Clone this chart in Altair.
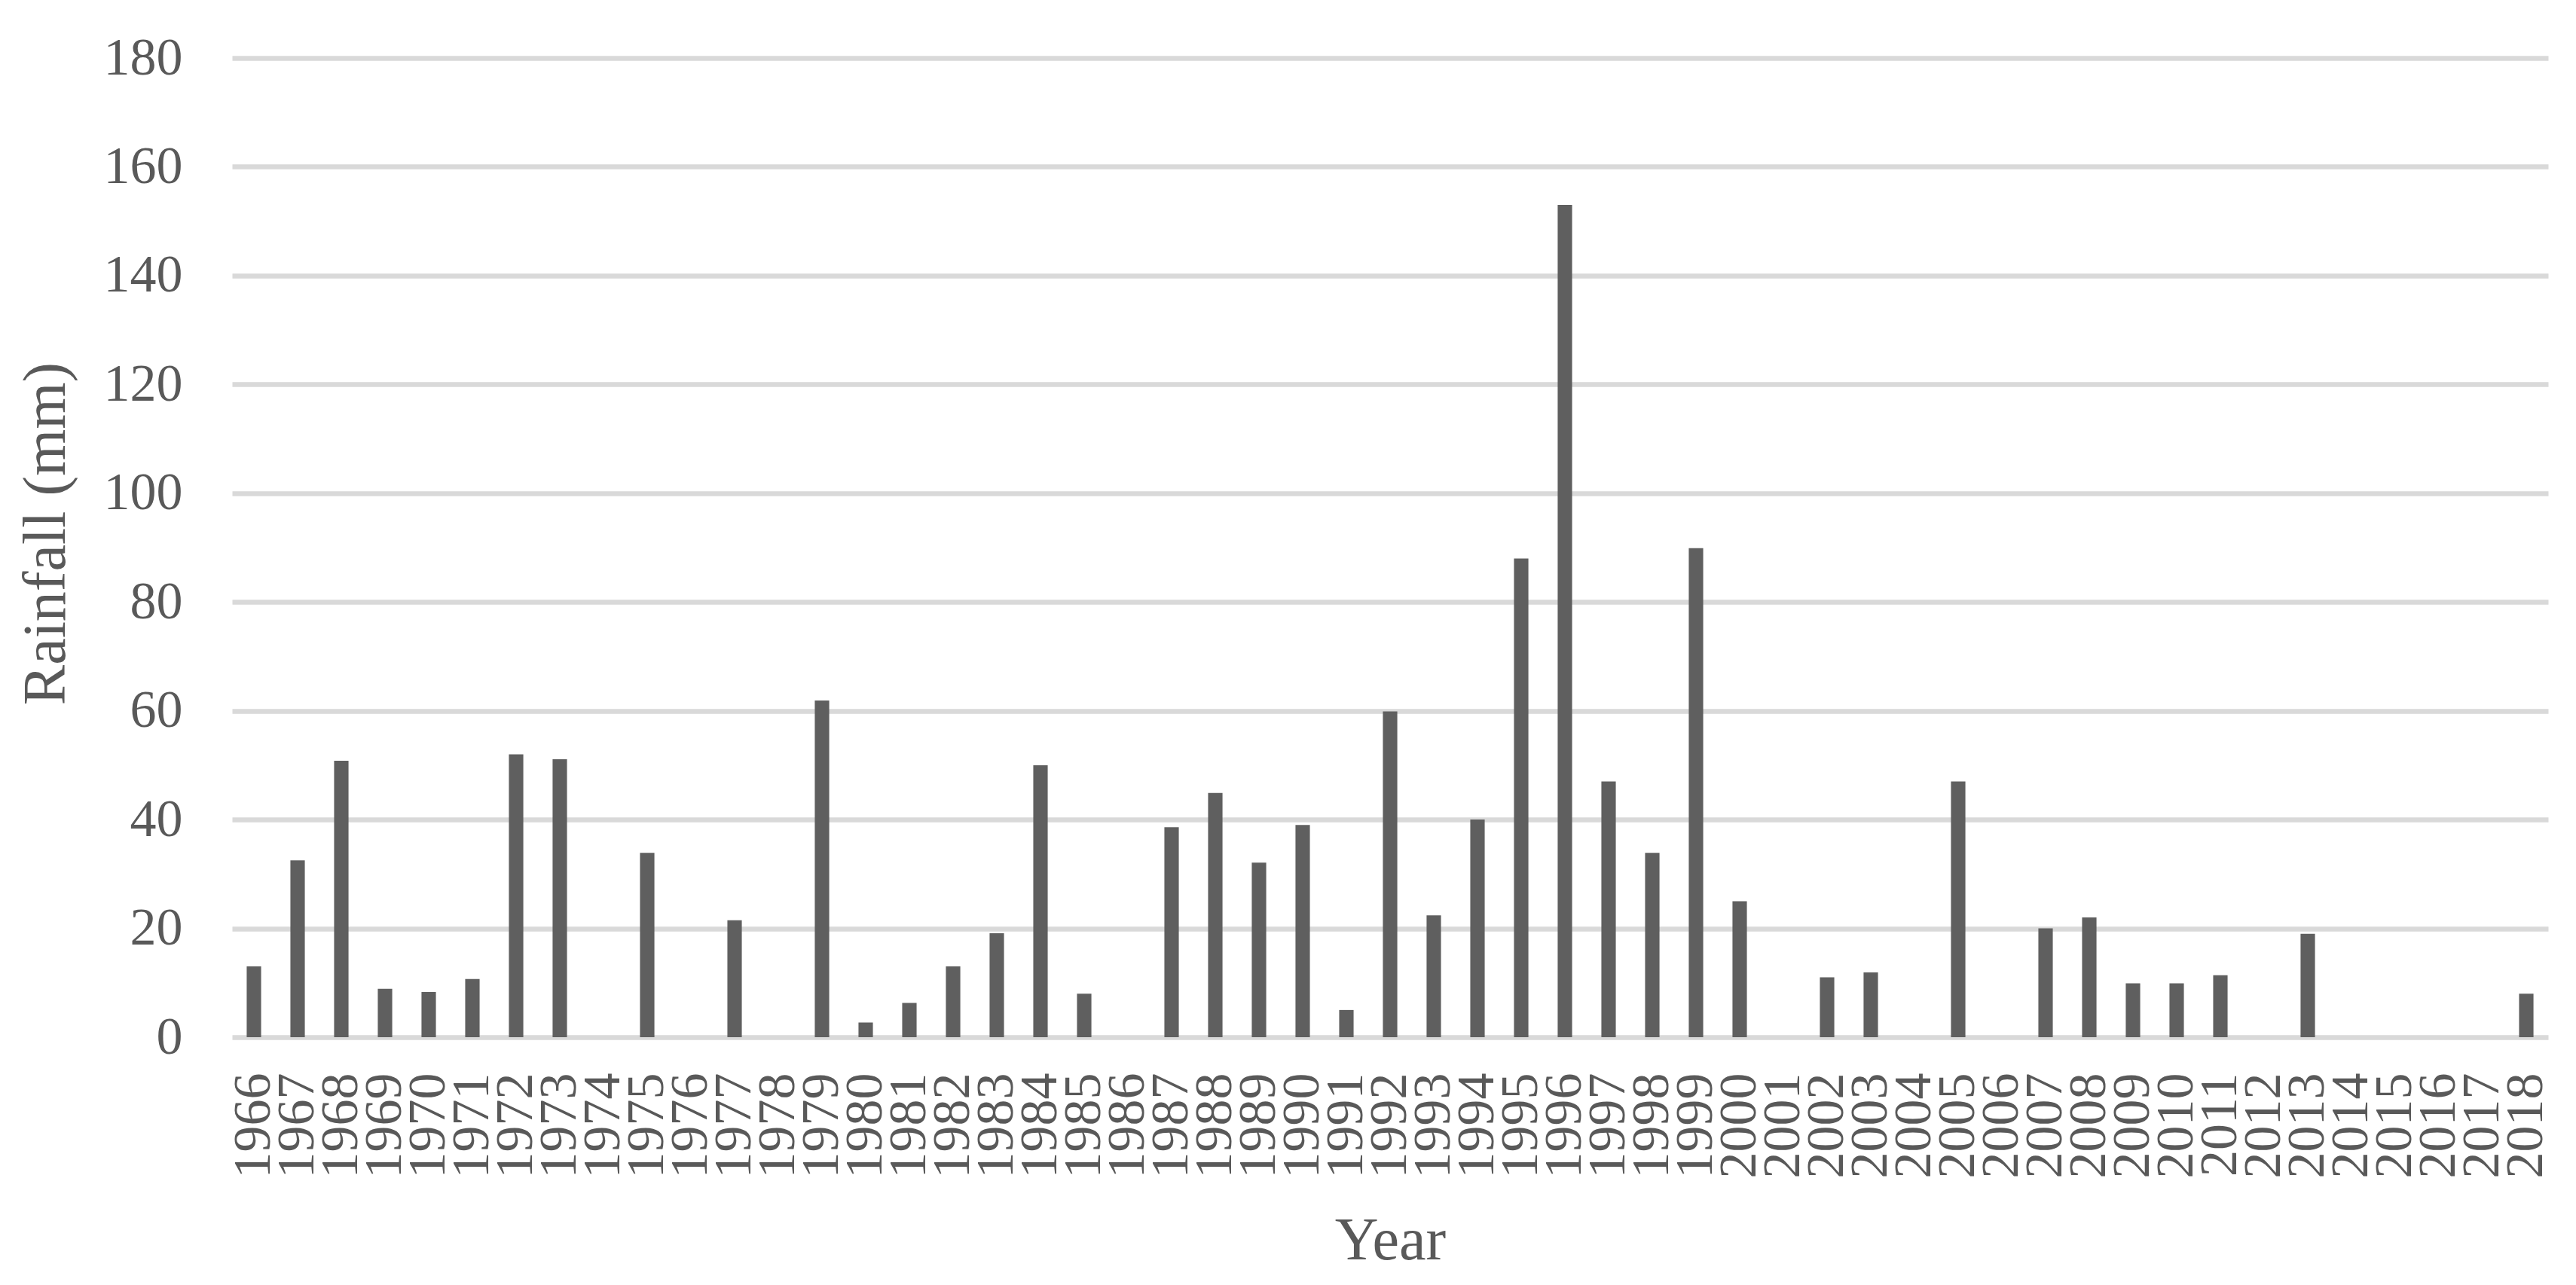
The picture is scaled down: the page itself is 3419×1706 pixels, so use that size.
import altair as alt
import pandas as pd

years = [str(y) for y in range(1966, 2019)]
rainfall = [
    13.0, 32.5, 50.8, 8.9, 8.3, 10.7, 52.0, 51.1, 0, 33.9,
    0, 21.5, 0, 61.9, 2.7, 6.3, 13.0, 19.1, 50.0, 8.0,
    0, 38.6, 44.9, 32.1, 39.0, 5.0, 59.9, 22.4, 40.0, 88.0,
    153.0, 47.0, 33.9, 89.9, 25.0, 0, 11.0, 11.9, 0, 47.0,
    0, 20.0, 22.0, 9.9, 9.9, 11.4, 0, 19.0, 0, 0,
    0, 0, 8.0,
]
y_ticks = [0, 20, 40, 60, 80, 100, 120, 140, 160, 180]

df = pd.DataFrame({"Year": years, "Rainfall": rainfall})

FONT = "Liberation Serif"
TEXT = "#595959"

chart = (
    alt.Chart(df)
    .mark_bar(color="#5f5f5f")
    .encode(
        x=alt.X(
            "Year:N",
            sort=years,
            scale=alt.Scale(paddingInner=0.67, paddingOuter=0.335),
            axis=alt.Axis(
                title="Year",
                labelAngle=-90,
                labelFont=FONT,
                labelFontSize=70,
                labelColor=TEXT,
                labelPadding=47,
                labelOverlap=False,
                ticks=False,
                domain=False,
                grid=False,
                titleFont=FONT,
                titleFontSize=80,
                titleFontWeight="normal",
                titleColor=TEXT,
                titlePadding=44,
            ),
        ),
        y=alt.Y(
            "Rainfall:Q",
            scale=alt.Scale(domain=[0, 180], nice=False),
            axis=alt.Axis(
                title="Rainfall (mm)",
                values=y_ticks,
                labelFont=FONT,
                labelFontSize=70,
                labelColor=TEXT,
                labelPadding=66,
                ticks=False,
                domain=False,
                grid=True,
                gridColor="#d9d9d9",
                gridWidth=6.5,
                titleFont=FONT,
                titleFontSize=80,
                titleFontWeight="normal",
                titleColor=TEXT,
                titlePadding=35,
                titleY=631,
            ),
        ),
    )
    .properties(
        width=3074,
        height=1300,
        background="white",
        autosize=alt.AutoSizeParams(type="none"),
        padding={"left": 300, "top": 69, "right": 20, "bottom": 318},
    )
    .configure_view(strokeWidth=0)
)

chart.save("out.html", embed_options={"renderer": "svg", "actions": False})
